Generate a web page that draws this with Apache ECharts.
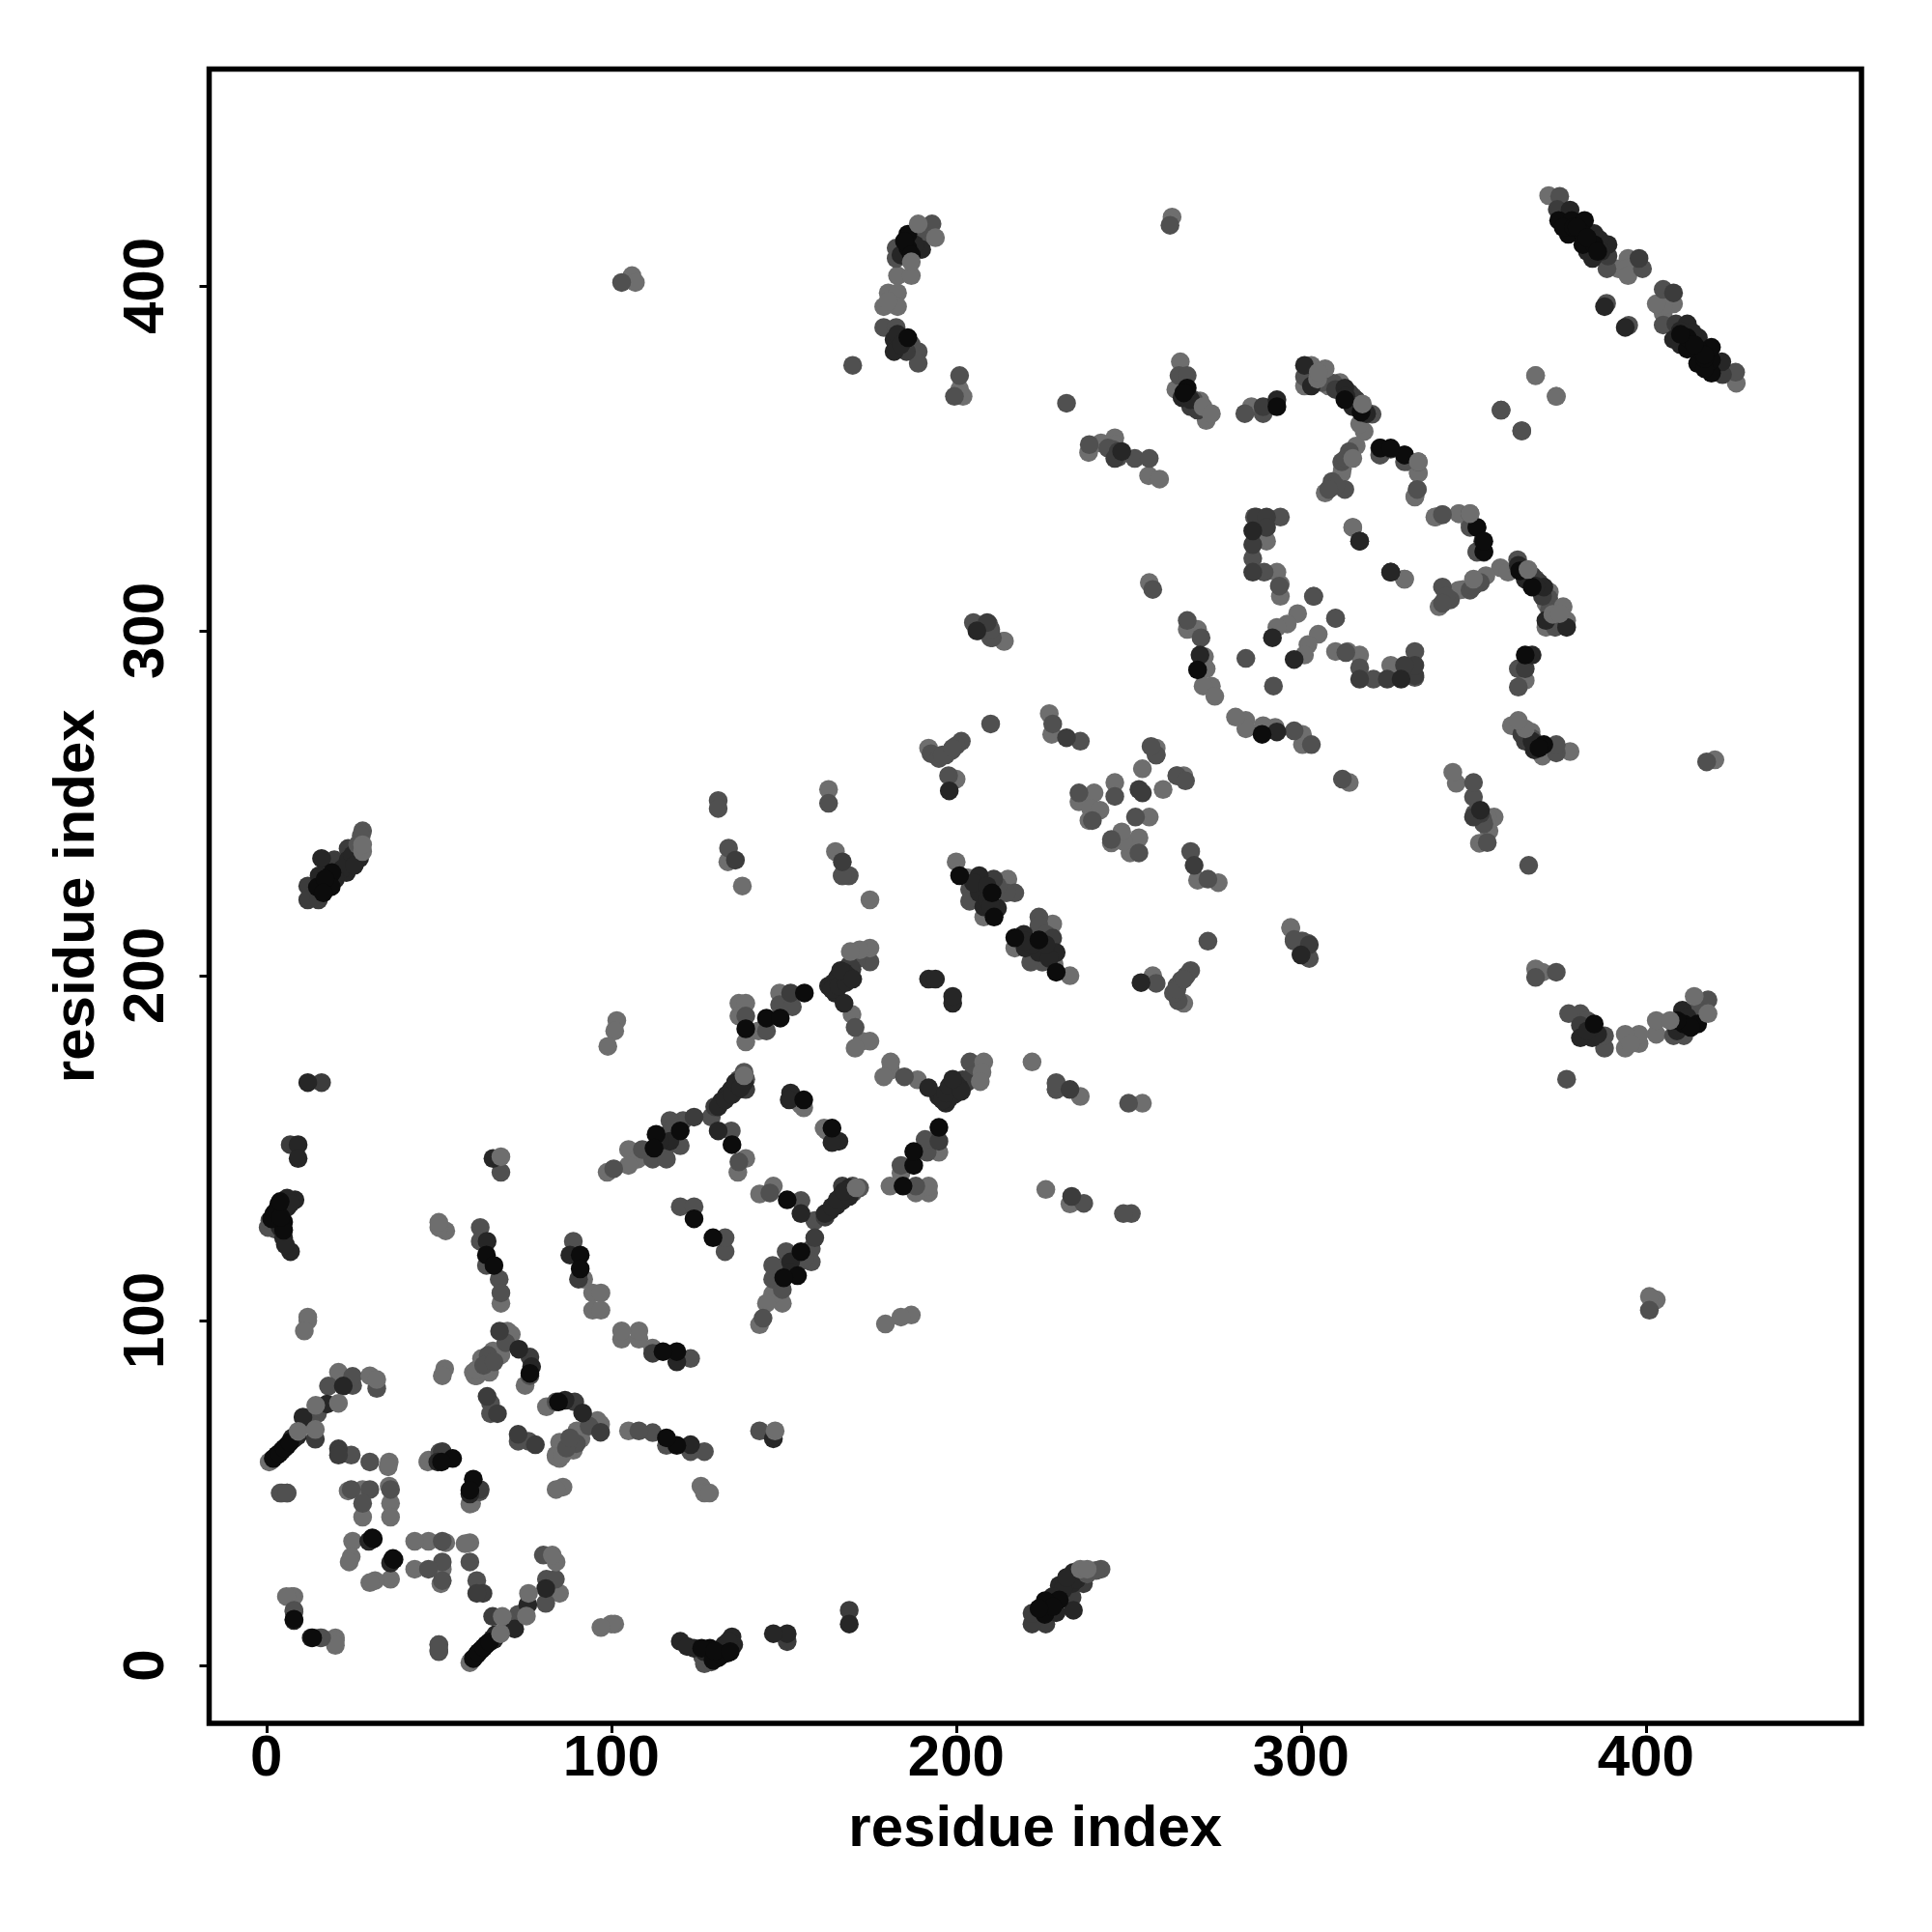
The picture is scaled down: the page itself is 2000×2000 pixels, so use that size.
<!DOCTYPE html>
<html><head><meta charset="utf-8">
<style>html,body{margin:0;padding:0;background:#fff}#c{width:2000px;height:2000px}</style>
<script src="https://cdn.jsdelivr.net/npm/echarts@6/dist/echarts.min.js"></script>
</head><body><div id="c"></div>
<script>
const tickValues = [0, 100, 200, 300, 400];
const axisTitle = "residue index";
// Contacts; the map is symmetric, so each pair is listed once.
const lightContacts = [
[1.5,59.5],[0.8,59],[20.9,85],
[35.6,59],[35.3,57.6],[23.7,50.6],[27.9,51],[35.6,52],[36,47],[36,43],[27.9,43],[25,36],[24.6,31.5],[24,30],
[6,50],[12,101],[12,100],[11,97],[51.7,86],[51,84],[60,85],[61,84],[65.7,91.2],[64.7,85],[69.9,96.9],[75,81.2],[62.4,89],[60.5,84],[61,85.8],[68,90],[71,96],
[46.8,59],[47,59.5],[8,20],[7.3,20],[5.8,20],[68,105],[92,112],[94.6,108],[97,108],[94.6,103],[97,103],[52,126],[50,127],[50,128.5],
[101.6,187],[101,184],[99,179.5],[137,192],[139,192],[137,188.3],[139,180.8],[142.7,184],[148.8,195],
[139,147],[136.7,143],[105,149.6],[107.7,146.8],[105,145],[98.8,143],
[169.8,188.8],[172.6,181],[175,181],[170.7,179],[155.8,161.7],[155,162.5],
[175,222],[138,226],[133.8,233],[163,254],[165,236],[192,266],[200,257],
[227,276],[227.7,270],[235.6,250.4],[240,253],[246,256],[239,248.5],[241.7,248],[238.5,245],[254,260],[257.5,266],[264,258],[266,258],
[200,233],[203.4,228.4],[215,228],[208,217],[205,223],[314,256],[297,214],
[183,403],[187,403],[180.3,398],[183,398],[179,394],[183,394],[180.3,395.6],
[201,370],[202,368],[238.4,351.7],[242,354.5],[246,356],[246,354],[255.8,345],[259,344],[206.4,300],[213.8,297],
[106,403],[107,401],[262.6,420],[265,378],[263.7,370],[270.7,366.7],[272.5,361],[285.6,365],
[303,377],[301,371],[311.3,372],[308,371],[318.3,357.8],[317,360],[316,353.6],[311.8,345.7],[312,347],[307,340],
[331,349],[334,345.7],[333.7,341],[333,339],[338.8,333],[345.8,334],
[290,326],[293,317],[294,310],[299,305],[296,302],[293,301],[294,313.5],[315,330],[330,315],
[267,300.4],[270,300.4],[272,292.5],[272.5,289],[274,284],[271.6,284],[275,281],[368,374],[374,368],
[371.8,426.2],[392,405],[394.8,408],[394.3,405],[394.8,403]
];
const midContacts = [
[14.8,73],[18,81],[25,81.2],[25,83.8],[32,80.3],[13,70],[24.6,61],[30,59],[24.6,51],[30,51],[36,51],[27.9,47],[4.5,50],
[64.3,89.9],[69.4,93.6],[76.4,84],[65,76],[65,73],[50.3,61.8],[8,16],[8,15.6],[67.5,112],[68,108],[63,87],[66,88],
[50,4],[50,6],[62,127],[62,123],[63.8,116],[89,123],[68,143],[134,237],[131,250.8],[131,248.5],[2.5,126.5],[0.5,127],[1,129],
[139,188.3],[145,184],[148.8,191.6],[152.5,191],[129,159],[134.8,155],[137,146],
[120.8,158],[117,158],[116.3,154],[116,150.5],[120,150.7],[112,146.8],[116,146.8],[109,149.6],[100.7,144],[118,156],
[175,204],[171,204.7],[170.7,185],[120,133],[124,133],[163,250],[167,229],[169,229],[192.7,264.4],[197,264],[198.7,265.3],[201.5,268],[200,266.7],[197.8,258],[210,273],[195,263],[196,264],[199,266],
[228,273],[236,268],[235.6,253],[246,252],[239.5,245],[258,264],[256.5,266.5],[203.9,225],[203.9,221.6],[217,224],[214.6,224],[212,226],
[229,168.7],[229,167],[257,312],[298,210],[300.5,210],[302.4,205],[103,401],[193,418],[190,415],[182.6,411],[182.6,408],[179,388],[182.6,388],[189,381],[189,377.6],[170,377],[201,374],[199.5,368],[187,383],[189,412],
[232,366],[238.6,354],[245.4,352.6],[247,350.3],[251.8,350],[256,350],[244,353],[262,417.6],[205.3,302],[209.4,302],[210,300],[210.5,298],
[264.6,374],[267,374],[268.8,367],[283.7,363],[289,363],[301,373.7],[309.4,371.8],[315,368],[320.6,362.8],[314,352],[311.8,349],[309,343.3],[312.7,341],[322.8,351],[302,375],[306,372],[313,350],[310,342],[308,341],
[341,333.7],[349,334],[349,330],[351,323],[286.5,333],[294,333],[286,321],[289.3,317],[293.7,313],[303.6,310],[310,303.7],[284,292],
[267,303],[271,298],[358,364],[364,358],[388.7,405],[399,405],[375,426],[388.6,395],[137,170],[139,170]
];
const darkGreyContacts = [
[14.2,65.6],[20.9,62.8],[20.9,61],[62,51],[64,78],[67.6,96.9],[76.4,89.4],[67,73],[90.5,112],
[124,159],[152,195],[130,162],[139,167],[169.8,201.9],[169,203],[23.7,236.9],[19.7,233.6],[12,226],[12,222],[15.1,222],[16,169],[6.9,151],
[136,233.5],[167,233],[232,269],[210.9,228],[322.8,353],[326,352.7],[287,333],[290,333],[290,330],[286,325],[286,317],[289,365],[268,365],[270,364],[374.3,422.2],[389,408.7],[398,408],[253,254],[302.4,209],[185.6,381],[247,352],[246,350],[310,370],[314,369],[316,367]
];
const darkContacts = [
[7.8,65.6],[10.6,72],[17.6,75.8],[22.3,81],[29.7,36],[8,13],[49.7,59],[73.2,91.7],[76.9,86.6],[16,234],[9,66.5],[7.5,66],[65.7,147],
[27,234],[23.7,233.6],[23.2,229.9],[15.3,229],[12,169],[9.2,151],[9.2,147],[8.3,135],[6,135.5],[6,132.8],[5,123.9],[7,120],[25,235],[22,231],[20,228],[25.5,232],[7,134],[5.5,122],[4,127],
[64,123],[88,119],[138.5,169],[136.7,167],[134.8,167],[133.4,165.4],[132,163.6],[131,155],[117,152],[114,152],[131,162],[133,164],[135,165.5],[136,169],[137.5,167.5],
[167.5,201],[165.6,199.5],[163,197],[165,194.9],[167.5,192],[164.5,198],[168.5,200],[164,196],[166,197],[168,198],[166.5,201.5],[170,199],[192,199],[194,199],
[152,166],[151.6,164],[198,253.6],[206.7,229],[206.7,224],[208,220],[212,219.6],[205,227],[209,226],[209,222],[210,220],[248,352],[182,384.4],[182,381],[183,386],[184,383],[190,410.6],[188,412],[184,409],
[293,367],[301,377],[312.7,370.4],[315,365],[303,371],[313,368],[319,363],[330,351],[286,329],[317,326],[326,317],[291.7,298],[270.7,293],[265.5,367.6],[268,367],[378,422],[385,415.2],[389,412],[384.5,408],[388,394],[300,206],[386.5,413.5],[383,410],[387,410]
];
const blackContacts = [
[3.1,61],[4.5,62.3],[6,63.7],[2,60],[3.8,61.5],[5.2,63],[6.8,64.7],[30.7,37],[36.7,31],[54,60],[50.8,59],[8,13.4],[76.4,84.7],
[19,229.9],[18.8,225.8],[14.8,225.7],[17,228],[16.5,224],[2.2,131],[3.6,133.7],[5,128.6],[5,126.2],[1.5,129.5],[3,132],[4.2,130],[4,134.5],[63.8,119],[66,116],[91,119],[91,115],
[139,184.6],[145,187.7],[149,187.7],[156,195],[135,151],[120,155],[113,154],[112.4,150],[155.8,164],[124,129.5],
[201,229],[210.4,224],[211,217],[186,415],[186,411],[185,413],[187,409],[186,385],[293,365],[312.7,367],[317.4,363.4],[351,330],[353,323],[353,326],
[270,288.7],[267,370.4],[266,369],[374.7,419],[378.5,419],[382.2,419],[377.5,415],[381.7,415.2],[381.7,412],[385,412],[376,417],[379,417],[380,417],[383,414],[386,410]
];
const lightOnTop = [
[9.2,67.9],[14.2,68.4],[14.3,75.4],[20.9,76],[30,84],[32,82.9],[27.9,236],[27.9,238],
[175,208],[172,207.5],[169.3,207],[138.5,171],[189,418],[194,414],[187,407],[307,376],[304.8,373],[305,375],
[317.8,365.8],[315,350],[271.6,365],[274,363],[334,349],[68,147.5]
];
const midOnTop = [[27.9,242],[27.5,240.5],[26.5,238],[138.5,172]];

const mirrored = pts => pts.concat(pts.map(p => [p[1], p[0]]));
const layers = [
  [lightContacts, '#6e6e6e'],
  [midContacts, '#505050'],
  [darkGreyContacts, '#3c3c3c'],
  [darkContacts, '#262626'],
  [blackContacts, '#0c0c0c'],
  [midOnTop, '#555555'],
  [lightOnTop, '#6e6e6e']
];
const fontFamily = '"Liberation Sans", Arial, sans-serif';
function axis(name, nameGap, rotate, labelMargin, min, max) {
  return {
    type: 'value', min, max, name, nameLocation: 'middle', nameGap,
    nameTextStyle: {fontFamily, fontWeight: 'bold', fontSize: 60, color: '#000'},
    splitLine: {show: false},
    axisLine: {show: false, onZero: false},
    axisTick: {show: true, inside: false, length: 10, lineStyle: {width: 3, color: '#000'}, customValues: tickValues},
    axisLabel: {show: true, rotate, margin: labelMargin, fontFamily, fontWeight: 'bold', fontSize: 60, color: '#000', customValues: tickValues}
  };
}
const chart = echarts.init(document.getElementById('c'), null, {renderer: 'canvas', width: 2000, height: 2000});
chart.setOption({
  animation: false,
  backgroundColor: '#fff',
  grid: {left: 216.5, top: 71.5, width: 1710.5, height: 1712.5, show: true, borderColor: '#000', borderWidth: 5.5, backgroundColor: 'transparent'},
  xAxis: axis(axisTitle, 80, 0, 7, -16.6, 462.5),
  yAxis: axis(axisTitle, 106, 90, 34, -16.8, 462.9),
  series: layers.map(([pts, color]) => ({
    type: 'scatter', data: mirrored(pts), symbol: 'circle', symbolSize: 19.5,
    itemStyle: {color, opacity: 1}, silent: true, large: false
  }))
});
</script></body></html>
